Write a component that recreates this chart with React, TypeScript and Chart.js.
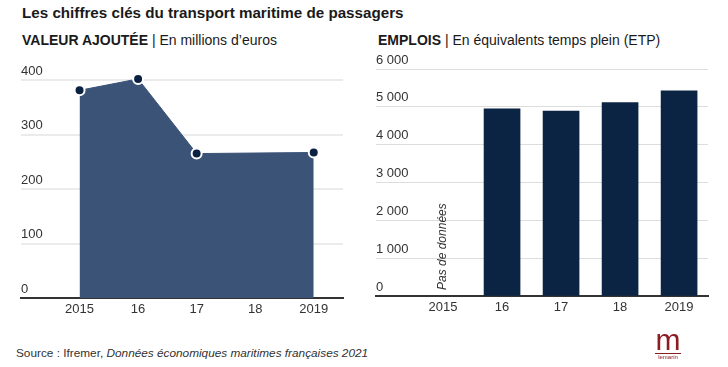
import React, { useEffect, useRef } from "react";
import { Chart, registerables } from "chart.js";

Chart.register(...registerables);

const years = [2015, 2016, 2017, 2018, 2019];
const yearLabels = ["2015", "16", "17", "18", "2019"];

const vaYears = [2015, 2016, 2017, 2019];
const vaValues = [381, 402, 265, 267];
const vaTicks = [0, 100, 200, 300, 400];

const empYears = [2016, 2017, 2018, 2019];
const empValues = [4950, 4890, 5110, 5425];
const empTicks = [0, 1000, 2000, 3000, 4000, 5000, 6000];
const noDataYear = 2015;
const noDataText = "Pas de données";

const FONT = "'Liberation Sans', Arial, sans-serif";

function fmtSpace(v: number) {
  return String(v).replace(/\B(?=(\d{3})+(?!\d))/g, " ");
}

function yearLabel(v: number) {
  const i = years.indexOf(v);
  return i >= 0 ? yearLabels[i] : "";
}

export default function App() {
  const leftRef = useRef<HTMLCanvasElement>(null);
  const rightRef = useRef<HTMLCanvasElement>(null);

  useEffect(() => {
    document.body.style.margin = "0";
    const tickFont = { family: FONT, size: 13 };

    const left = new Chart(leftRef.current!, {
      type: "line",
      data: {
        datasets: [
          {
            data: vaYears.map((x, i) => ({ x, y: vaValues[i] })),
            fill: "origin",
            backgroundColor: "#3b5377",
            borderColor: "#3b5377",
            borderWidth: 1,
            tension: 0,
            pointRadius: 5,
            pointBorderWidth: 2,
            pointBorderColor: "#ffffff",
            pointBackgroundColor: "#0b2142",
          },
        ],
      },
      options: {
        animation: false,
        responsive: false,
        maintainAspectRatio: false,
        layout: { padding: { left: 21, right: 21, top: 12.75, bottom: 10 } },
        plugins: { legend: { display: false }, tooltip: { enabled: false } },
        scales: {
          x: {
            type: "linear",
            min: 2014,
            max: 2019.5,
            afterBuildTicks: (s: any) => {
              s.ticks = years.map((v) => ({ value: v }));
            },
            afterFit: (s: any) => {
              s.height = 22;
            },
            grid: { display: false, drawTicks: false },
            border: { display: true, color: "#333333", width: 2 },
            ticks: {
              font: tickFont,
              color: "#333333",
              padding: 4,
              maxRotation: 0,
              autoSkip: false,
              callback: (v: any) => yearLabel(Number(v)),
            },
          },
          y: {
            min: 0,
            max: 450,
            afterBuildTicks: (s: any) => {
              s.ticks = vaTicks.map((v) => ({ value: v }));
            },
            afterFit: (s: any) => {
              s.width = 0;
            },
            border: { display: false },
            grid: {
              drawTicks: false,
              color: (c: any) => (c.tick && c.tick.value === 0 ? "rgba(0,0,0,0)" : "#ebebeb"),
              lineWidth: 2,
            },
            ticks: {
              mirror: true,
              padding: 0,
              labelOffset: -9,
              font: tickFont,
              color: "#333333",
              callback: (v: any) => fmtSpace(Number(v)),
            },
          },
        },
      },
    } as any);

    const noDataPlugin = {
      id: "noData",
      afterDatasetsDraw(chart: any) {
        const ctx = chart.ctx;
        const x = chart.scales.x.getPixelForValue(noDataYear);
        const y = chart.scales.y.getPixelForValue(0);
        ctx.save();
        ctx.translate(x, y - 6);
        ctx.rotate(-Math.PI / 2);
        ctx.font = `italic 12px ${FONT}`;
        ctx.fillStyle = "#333333";
        ctx.textAlign = "left";
        ctx.textBaseline = "middle";
        ctx.fillText(noDataText, 0, 0);
        ctx.restore();
      },
    };

    const right = new Chart(rightRef.current!, {
      type: "bar",
      data: {
        datasets: [
          {
            data: empYears.map((x, i) => ({ x, y: empValues[i] })),
            backgroundColor: "#0c2444",
            borderWidth: 0,
            barThickness: 36,
          },
        ],
      },
      options: {
        animation: false,
        responsive: false,
        maintainAspectRatio: false,
        layout: { padding: { left: 12, right: 20, top: 29, bottom: 12 } },
        plugins: { legend: { display: false }, tooltip: { enabled: false } },
        scales: {
          x: {
            type: "linear",
            min: 2013.864,
            max: 2019.49,
            offset: false,
            afterBuildTicks: (s: any) => {
              s.ticks = years.map((v) => ({ value: v }));
            },
            afterFit: (s: any) => {
              s.height = 22;
            },
            grid: { display: false, drawTicks: false, offset: false },
            border: { display: true, color: "#333333", width: 2 },
            ticks: {
              font: tickFont,
              color: "#333333",
              padding: 4,
              maxRotation: 0,
              autoSkip: false,
              callback: (v: any) => yearLabel(Number(v)),
            },
          },
          y: {
            min: 0,
            max: 6000,
            afterBuildTicks: (s: any) => {
              s.ticks = empTicks.map((v) => ({ value: v }));
            },
            afterFit: (s: any) => {
              s.width = 0;
            },
            border: { display: false },
            grid: {
              drawTicks: false,
              color: (c: any) => (c.tick && c.tick.value === 0 ? "rgba(0,0,0,0)" : "#dddddd"),
              lineWidth: 1,
            },
            ticks: {
              mirror: true,
              padding: 0,
              labelOffset: -9,
              font: tickFont,
              color: "#333333",
              callback: (v: any) => fmtSpace(Number(v)),
            },
          },
        },
      },
      plugins: [noDataPlugin],
    } as any);

    return () => {
      left.destroy();
      right.destroy();
    };
  }, []);

  const base: React.CSSProperties = {
    position: "absolute",
    fontFamily: FONT,
    color: "#1a1a1a",
    whiteSpace: "nowrap",
    lineHeight: 1,
  };

  return (
    <div
      style={{
        position: "fixed",
        left: 0,
        top: 0,
        width: 728,
        height: 367,
        background: "#ffffff",
        overflow: "hidden",
      }}
    >
      <div style={{ ...base, left: 22, top: 5, fontSize: 15.2, fontWeight: "bold" }}>
        Les chiffres clés du transport maritime de passagers
      </div>
      <div style={{ ...base, left: 22, top: 33, fontSize: 14 }}>
        <b>VALEUR AJOUTÉE</b> | En millions d’euros
      </div>
      <div style={{ ...base, left: 378, top: 33, fontSize: 14 }}>
        <b>EMPLOIS</b> | En équivalents temps plein (ETP)
      </div>
      <canvas
        ref={leftRef}
        width={364}
        height={290}
        style={{ position: "absolute", left: 0, top: 40, width: 364, height: 290 }}
      />
      <canvas
        ref={rightRef}
        width={364}
        height={290}
        style={{ position: "absolute", left: 364, top: 40, width: 364, height: 290 }}
      />
      <div style={{ ...base, left: 16, top: 348, fontSize: 11.8, color: "#333333" }}>
        Source : Ifremer, <i>Données économiques maritimes françaises 2021</i>
      </div>
      <div style={{ ...base, left: 655, top: 327, width: 26, textAlign: "center", color: "#8b1c24" }}>
        <div style={{ fontSize: 30, lineHeight: "26px", fontWeight: 300 }}>m</div>
        <div style={{ borderTop: "1px solid #8b1c24", fontSize: 6, lineHeight: "7px" }}>lemarin</div>
      </div>
    </div>
  );
}
